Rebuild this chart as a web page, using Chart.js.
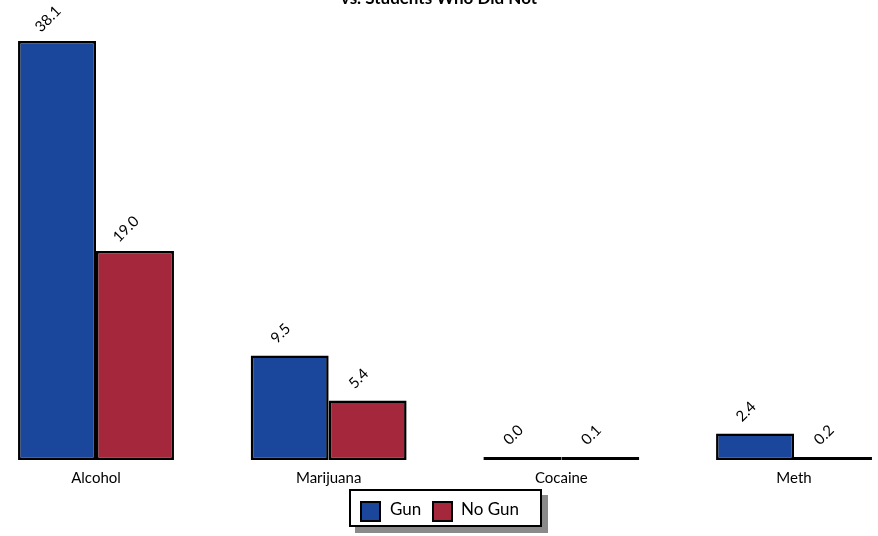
<!DOCTYPE html>
<html>
<head>
<meta charset="utf-8">
<script src="https://cdn.jsdelivr.net/npm/chart.js@4"></script>
<style>
  html, body { margin: 0; padding: 0; background: #fff; }
  #wrap { position: relative; width: 878px; height: 536px; overflow: hidden; }
  #c { position: absolute; left: 0; top: 0; }
  #legend { position: absolute; left: 349px; top: 489px; width: 189px; height: 34px;
    border: 2px solid #000; background: #fff; box-shadow: 6px 6px 0 #8a8a8a;
    font-family: Lato, "DejaVu Sans", sans-serif; font-size: 17px; color: #000; }
  .sw { position: absolute; top: 10px; width: 17px; height: 17px; border: 2px solid #000; }
  .lt { position: absolute; top: 9px; line-height: 18px; }
</style>
</head>
<body>
<div id="wrap">
  <canvas id="c" width="878" height="536"></canvas>
  <div id="legend"></div>
</div>
<script>
const titleText = "vs. Students Who Did Not";
const categories = ["Alcohol", "Marijuana", "Cocaine", "Meth"];
const seriesNames = ["Gun", "No Gun"];
const gunValues = [38.1, 9.5, 0.0, 2.4];
const noGunValues = [19.0, 5.4, 0.1, 0.2];
const seriesColors = ["#1a469b", "#a5273c"];

// HTML legend
const legend = document.getElementById('legend');
const legendPos = [[9, 39], [81, 110]];
seriesNames.forEach((name, i) => {
  const sw = document.createElement('div');
  sw.className = 'sw';
  sw.style.left = legendPos[i][0] + 'px';
  sw.style.background = seriesColors[i];
  legend.appendChild(sw);
  const t = document.createElement('div');
  t.className = 'lt';
  t.style.left = legendPos[i][1] + 'px';
  t.textContent = name;
  legend.appendChild(t);
});

const labelPlugin = {
  id: 'valueLabels',
  afterDatasetsDraw(chart) {
    const ctx = chart.ctx;
    ctx.save();
    ctx.font = '15px Lato, "DejaVu Sans", sans-serif';
    ctx.fillStyle = '#000';
    ctx.textAlign = 'center';
    ctx.textBaseline = 'middle';
    chart.data.datasets.forEach((ds, di) => {
      chart.getDatasetMeta(di).data.forEach((bar, i) => {
        const v = ds.data[i];
        ctx.save();
        ctx.translate(bar.x - 9, bar.y - 22);
        ctx.rotate(-Math.PI / 4);
        ctx.fillText(v.toFixed(1), 0, 0);
        ctx.restore();
      });
    });
    // title (top line cut off by canvas edge)
    ctx.font = 'bold 17px Lato, "DejaVu Sans", sans-serif';
    ctx.textAlign = 'center';
    ctx.textBaseline = 'alphabetic';
    ctx.fillText(titleText, 439, 4);
    ctx.restore();
  }
};

new Chart(document.getElementById('c'), {
  type: 'bar',
  data: {
    labels: categories,
    datasets: [
      { label: seriesNames[0], data: gunValues, backgroundColor: seriesColors[0] },
      { label: seriesNames[1], data: noGunValues, backgroundColor: seriesColors[1] }
    ].map(d => Object.assign(d, {
      borderColor: '#000', borderWidth: 2.5, borderSkipped: false,
      categoryPercentage: 0.67, barPercentage: 1.0, minBarLength: 3, clip: false
    }))
  },
  options: {
    responsive: false,
    animation: false,
    events: [],
    layout: { padding: { left: 96, right: 84, top: 41, bottom: 40 } },
    plugins: { legend: { display: false }, tooltip: { enabled: false }, title: { display: false } },
    scales: {
      x: {
        offset: false,
        grid: { display: false, drawTicks: false },
        border: { display: false },
        ticks: { color: '#000', font: { family: 'Lato, "DejaVu Sans", sans-serif', size: 15 }, padding: 9, maxRotation: 0 }
      },
      y: {
        display: false,
        min: 0, max: 38.1
      }
    }
  },
  plugins: [labelPlugin]
});
</script>
</body>
</html>
